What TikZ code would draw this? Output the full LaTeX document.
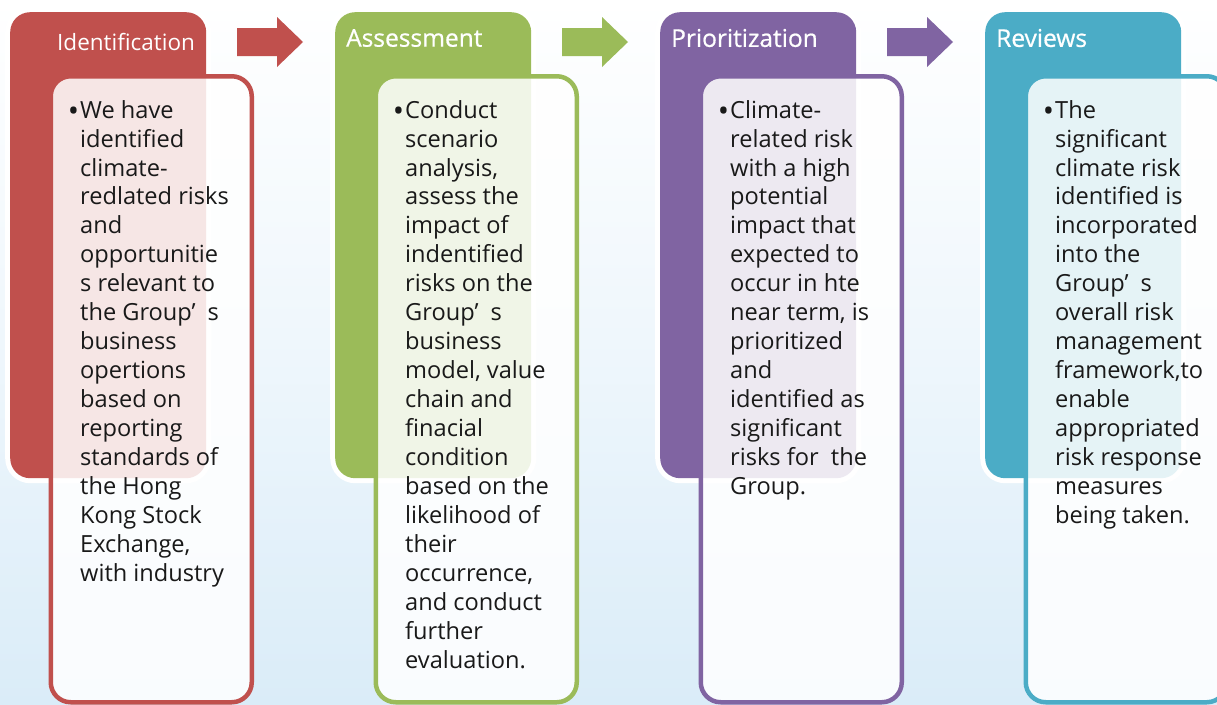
\documentclass[tikz,border=0pt]{standalone}
\usepackage{fontspec}
\setmainfont{Open Sans}
\newfontfamily\headfont[FakeBold=0.7]{Open Sans}
\usepackage{xcolor}
\usetikzlibrary{positioning}

\definecolor{idred}{HTML}{C0504D}
\definecolor{asgreen}{HTML}{9BBB59}
\definecolor{prpurple}{HTML}{8064A2}
\definecolor{rvteal}{HTML}{4BACC6}
\definecolor{bgblue}{HTML}{DAECF8}

\newcommand{\itemdot}{\llap{\raisebox{-3.5pt}{\fontsize{30}{29}\selectfont•}\hspace{1pt}}}

\begin{document}
\begin{tikzpicture}[
  x=1pt, y=-1pt,
  headbox/.style={fill=#1, rounded corners=20pt, anchor=north west, inner sep=0pt,
                  minimum width=196pt, minimum height=466pt,
                  preaction={draw=white, line width=10pt}},
  bodybox/.style={draw=#1, line width=4.5pt, fill=white, fill opacity=0.86,
                  rounded corners=20pt, anchor=north west, inner sep=0pt,
                  minimum width=201pt, minimum height=626pt},
  headtext/.style={anchor=west, inner sep=0pt, text=white,
                   font=\headfont\fontsize{24.5}{28}\selectfont},
  bodytext/.style={anchor=north west, align=left, inner sep=0pt, text=black!90,
                   font=\fontsize{23.6}{28.95}\selectfont},
  blockarr/.style={fill=#1}
]
  \clip (0,0) rectangle (1217,704);
  \shade[top color=white, bottom color=bgblue, middle color=white!55!bgblue]
    (0,0) rectangle (1217,704);

  % Identification
  \node[headbox=idred] (idhead) at (10,12) {};
  \node[bodybox=idred] (idbody) at (48.5,74) {};
  \node[headtext, font=\fontsize{22.5}{27}\selectfont] (idtitle) at (57,42) {Identification};
  \node[bodytext] (idtext) at (80,100) {\itemdot We have\\identified\\climate-\\redlated risks\\and\\opportunitie\\s relevant to\\the Group’\hspace{12pt}s\\business\\opertions\\based on\\reporting\\standards of\\the Hong\\Kong Stock\\Exchange,\\with industry};

  % Assessment
  \node[headbox=asgreen] (ashead) at (335,12) {};
  \node[bodybox=asgreen] (asbody) at (373.5,74) {};
  \node[headtext] (astitle) at (346,38) {Assessment};
  \node[bodytext] (astext) at (405,100) {\itemdot Conduct\\scenario\\analysis,\\assess the\\impact of\\indentified\\risks on the\\Group’\hspace{12pt}s\\business\\model, value\\chain and\\finacial\\condition\\based on the\\likelihood of\\their\\occurrence,\\and conduct\\further\\evaluation.};

  % Prioritization
  \node[headbox=prpurple] (prhead) at (660,12) {};
  \node[bodybox=prpurple] (prbody) at (698.5,74) {};
  \node[headtext] (prtitle) at (671,38) {Prioritization};
  \node[bodytext] (prtext) at (730,100) {\itemdot Climate-\\related risk\\with a high\\potential\\impact that\\expected to\\occur in hte\\near term, is\\prioritized\\and\\identified as\\significant\\risks for\ \ the\\Group.};

  % Reviews
  \node[headbox=rvteal] (rvhead) at (985,12) {};
  \node[bodybox=rvteal] (rvbody) at (1023.5,74) {};
  \node[headtext] (rvtitle) at (996,38) {Reviews};
  \node[bodytext] (rvtext) at (1055,100) {\itemdot The\\significant\\climate risk\\identified is\\incorporated\\into the\\Group’\hspace{12pt}s\\overall risk\\management\\framework,to\\enable\\appropriated\\risk response\\measures\\being taken.};

  % Arrows
  \fill[blockarr=idred] (237,28) -- (277,28) -- (277,17) -- (303,42) -- (277,67) -- (277,56) -- (237,56) -- cycle;
  \fill[blockarr=asgreen] (562,28) -- (602,28) -- (602,17) -- (628,42) -- (602,67) -- (602,56) -- (562,56) -- cycle;
  \fill[blockarr=prpurple] (887,28) -- (927,28) -- (927,17) -- (953,42) -- (927,67) -- (927,56) -- (887,56) -- cycle;
\end{tikzpicture}
\end{document}
